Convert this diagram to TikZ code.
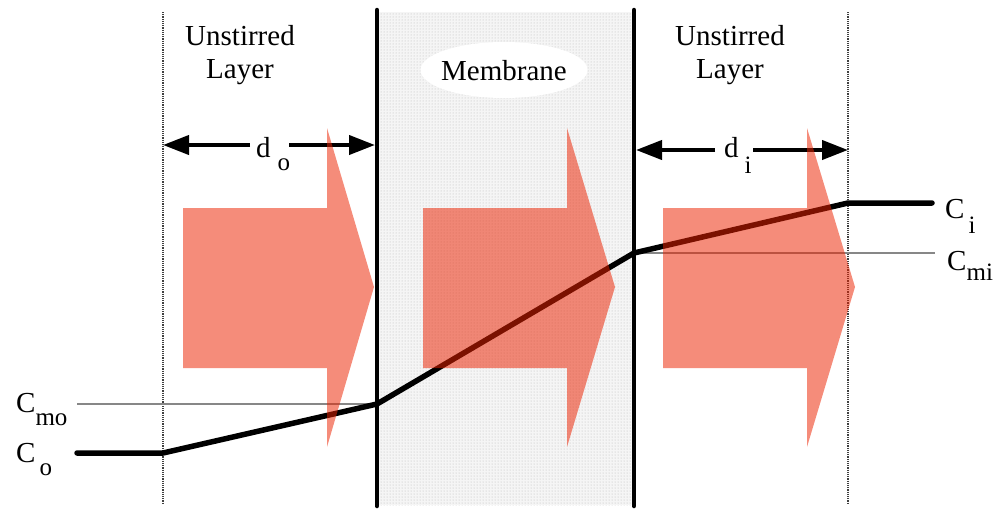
\documentclass[tikz,border=0pt]{standalone}
\usepackage{fontspec}
\setmainfont{Liberation Serif}
\usetikzlibrary{arrows.meta,patterns,shapes.geometric}
\definecolor{flux}{RGB}{236,34,0}
\definecolor{guide}{RGB}{135,135,135}
\newcommand{\subtxt}[2]{\raisebox{-#1}{\fontsize{25}{27}\selectfont #2}}
\tikzset{
  lbl/.style={font=\fontsize{29}{33}\selectfont, inner sep=0pt},
  boundary/.style={line width=4.5pt, line cap=round},
  layeredge/.style={line width=1.2pt, densely dotted, black!75},
  guideline/.style={line width=2.6pt, guide},
  profile/.style={line width=5.5pt, line cap=round, line join=round},
  dist/.style={line width=4pt, -{Triangle[length=26pt,width=19pt]}},
  fluxarrow/.style={fill=flux, fill opacity=0.52, draw=none},
}
\begin{document}
\begin{tikzpicture}[x=1pt,y=-1pt]
\useasboundingbox (0,0) rectangle (998,509);
% membrane
\fill[black!4] (377,12) rectangle (634,505);
\fill[pattern=dots, pattern color=black!28] (377,12) rectangle (634,505);
\node[ellipse, fill=white, minimum width=167pt, minimum height=56pt, inner sep=0pt] (memb) at (504,70) {};
\node[lbl, anchor=base] (membtxt) at (504,80) {Membrane};
% layer titles
\node[lbl, anchor=base] (ul1) at (240,45) {Unstirred};
\node[lbl, anchor=base] (ul2) at (240,78) {Layer};
\node[lbl, anchor=base] (ur1) at (730,45) {Unstirred};
\node[lbl, anchor=base] (ur2) at (730,78) {Layer};
% boundaries
\coordinate (lo1) at (163,12); \coordinate (lo2) at (163,503);
\coordinate (ml1) at (377,10); \coordinate (ml2) at (377,506);
\coordinate (mr1) at (634,10); \coordinate (mr2) at (634,506);
\coordinate (ro1) at (848,12); \coordinate (ro2) at (848,503);
\draw[layeredge] (lo1) -- (lo2);
\draw[layeredge] (ro1) -- (ro2);
\draw[boundary] (ml1) -- (ml2);
\draw[boundary] (mr1) -- (mr2);
% guide lines
\coordinate (gmo1) at (77,404); \coordinate (gmo2) at (377,404);
\coordinate (gmi1) at (634,253); \coordinate (gmi2) at (935,253);
\draw[guideline] (gmo1) -- (gmo2);
\draw[guideline] (gmi1) -- (gmi2);
% concentration profile
\coordinate (p0) at (77,453);
\coordinate (p1) at (163,453);
\coordinate (p2) at (377,404);
\coordinate (p3) at (634,253);
\coordinate (p4) at (848,203);
\coordinate (p5) at (932,203);
\draw[profile] (p0) -- (p1) -- (p2) -- (p3) -- (p4) -- (p5);
% distance arrows
\node[lbl, anchor=base west] (dolab) at (256,157) {d\hspace{7pt}\subtxt{13pt}{o}};
\coordinate (doa) at (250,145); \coordinate (dob) at (289,145);
\draw[dist] (doa) -- (lo1 |- doa);
\draw[dist] (dob) -- (375,145);
\node[lbl, anchor=base west] (dilab) at (724,157) {d\hspace{6pt}\subtxt{16pt}{i}};
\coordinate (dia) at (715,150); \coordinate (dib) at (753,150);
\draw[dist] (dia) -- (636,150);
\draw[dist] (dib) -- (ro1 |- dib);
% concentration labels
\node[lbl, anchor=base west] (cmo) at (16,412) {C\subtxt{13pt}{mo}};
\node[lbl, anchor=base west] (co) at (16,462) {C\hspace{4pt}\subtxt{13pt}{o}};
\node[lbl, anchor=base west] (ci) at (945,218) {C\hspace{4pt}\subtxt{15pt}{i}};
\node[lbl, anchor=base west] (cmi) at (947,270) {C\subtxt{10pt}{mi}};
% flux arrows
\fill[fluxarrow] (183,208) -- (327,208) -- (327,128) -- (374,287) -- (327,447) -- (327,368) -- (183,368) -- cycle;
\fill[fluxarrow] (423,208) -- (567,208) -- (567,128) -- (615,287) -- (567,447) -- (567,368) -- (423,368) -- cycle;
\fill[fluxarrow] (663,208) -- (807,208) -- (807,128) -- (855,287) -- (807,447) -- (807,368) -- (663,368) -- cycle;
\end{tikzpicture}
\end{document}
